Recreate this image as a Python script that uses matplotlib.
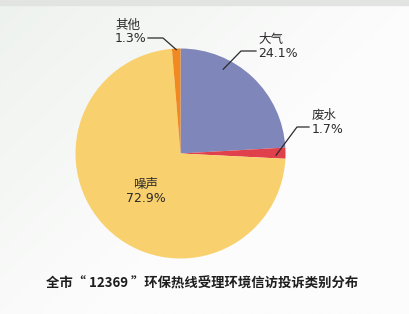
import matplotlib
matplotlib.use('Agg')
import matplotlib.pyplot as plt
import numpy as np

plt.rcParams['font.family'] = ['Noto Sans CJK SC', 'DejaVu Sans']

# data (clockwise from 12 o'clock)
categories = ['大气', '废水', '噪声', '其他']
shares = [24.1, 1.7, 72.9, 1.3]
colors = ['#7f86b9', '#e0404c', '#f9d06e', '#f0891f']
title = '全市“ 12369 ”环保热线受理环境信访投诉类别分布'

W, H = 410, 314
CX, CY, R = 180.5, 153.5, 105.0


def px(x, y):
    """pixel position (from top left) -> data coords, pie radius = 1"""
    return (x - CX) / R, (CY - y) / R


fig = plt.figure(figsize=(W / 100, H / 100), dpi=100)
fig.patch.set_facecolor('#f6f7f6')

# soft background gradient like the scanned page (greyish top left, white elsewhere)
bg = fig.add_axes([0, 0, 1, 1])
gx = np.linspace(0, 1, 256)[None, :]
gy = np.linspace(0, 1, 256)[:, None]
bg.imshow(np.clip(gx + gy * 0.8, 0, 1), aspect='auto',
          cmap=matplotlib.colors.LinearSegmentedColormap.from_list('bg', ['#eef2ee', '#fcfcfc']),
          extent=[0, 1, 0, 1], vmin=0, vmax=1)
bg.axhspan(0.985, 1.0, color='#e2e4e2')
bg.set_xlim(0, 1)
bg.set_ylim(0, 1)
bg.axis('off')

ax = fig.add_axes([0, 0, 1, 1])
ax.patch.set_alpha(0)
wedges, _ = ax.pie(shares, colors=colors, startangle=90, counterclock=False,
                   radius=1.0, wedgeprops=dict(linewidth=0))
ax.set_aspect('auto')
ax.set_xlim(-CX / R, (W - CX) / R)
ax.set_ylim(-(H - CY) / R, CY / R)
ax.axis('off')

txt = dict(fontsize=9, color='#2b2b2b', linespacing=1.1,
           family=['DejaVu Sans', 'Noto Sans CJK SC'])
line = dict(color='#2b2b2b', lw=0.9)


def wedge_point(w, frac, r):
    ang = np.deg2rad(w.theta1 + frac * (w.theta2 - w.theta1))
    return r * np.cos(ang), r * np.sin(ang)


labels = {c: f'{c}\n{s}%' for c, s in zip(categories, shares)}

# 大气
tip = wedge_point(wedges[0], 0.69, 0.9)
elbow = px(241, 51)
ax.plot([tip[0], elbow[0], px(256, 51)[0]], [tip[1], elbow[1], elbow[1]], **line)
ax.text(*px(258, 46), labels['大气'], ha='left', va='center', **txt)

# 废水
tip = wedge_point(wedges[1], 0.3, 0.91)
elbow = px(297, 127)
ax.plot([tip[0], elbow[0], px(309, 127)[0]], [tip[1], elbow[1], elbow[1]], **line)
ax.text(*px(312, 122), labels['废水'], ha='left', va='center', **txt)

# 其他
tip = wedge_point(wedges[3], 0.5, 0.99)
elbow = px(163, 38)
ax.plot([tip[0], elbow[0], px(148, 38)[0]], [tip[1], elbow[1], elbow[1]], **line)
ax.text(*px(115, 32), labels['其他'], ha='left', va='center', **txt)

# 噪声 (inside)
ax.text(*px(146, 191), labels['噪声'], ha='center', va='center', **txt)

fig.text(202 / W, 1 - 284 / H, title, ha='center', va='center',
         fontsize=9.6, fontweight='bold', color='#1e1e1e')

fig.savefig('out.png', dpi=100, facecolor=fig.get_facecolor())
